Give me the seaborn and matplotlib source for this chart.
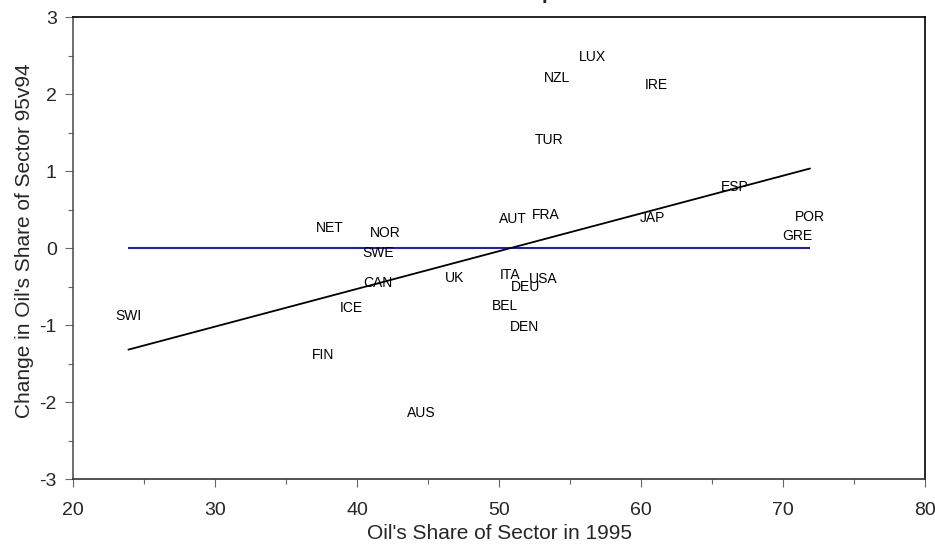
import pandas as pd
import matplotlib
matplotlib.use('Agg')
import matplotlib.pyplot as plt
import seaborn as sns
from matplotlib.ticker import MultipleLocator

# values (label sits just above its point)
countries = ['SWI', 'NET', 'NOR', 'SWE', 'CAN', 'ICE', 'FIN', 'AUS', 'UK', 'AUT',
             'FRA', 'ITA', 'USA', 'DEU', 'BEL', 'DEN', 'JAP', 'ESP', 'POR', 'GRE',
             'TUR', 'NZL', 'LUX', 'IRE']
share_1995 = [23.9, 38.1, 42.0, 41.5, 41.5, 39.6, 37.6, 44.5, 46.9, 51.0,
              53.3, 50.8, 53.1, 51.9, 50.4, 51.8, 60.8, 66.6, 71.9, 71.0,
              53.5, 54.1, 56.6, 61.1]
change_95v94 = [-0.98, 0.16, 0.09, -0.16, -0.55, -0.88, -1.49, -2.24, -0.49, 0.28,
                0.33, -0.45, -0.50, -0.61, -0.85, -1.13, 0.29, 0.69, 0.30, 0.06,
                1.30, 2.11, 2.38, 2.02]

df = pd.DataFrame({'country': countries, 'share': share_1995, 'change': change_95v94})

sns.set_style('ticks')
plt.rcParams['font.family'] = ['Liberation Sans', 'DejaVu Sans']
plt.rcParams['axes.unicode_minus'] = False

fig = plt.figure(figsize=(9.35, 5.45), dpi=100)
ax = fig.add_axes([0.0781, 0.1211, 0.9112, 0.8477])

# zero line across the data range
ax.hlines(0, df['share'].min(), df['share'].max(), color='#0000ee', lw=1.3, zorder=2)

# fitted line
sns.regplot(data=df, x='share', y='change', scatter=False, ci=None, truncate=True,
            color='black', line_kws={'lw': 1.3}, ax=ax)

for _, r in df.iterrows():
    ax.annotate(r['country'], (r['share'], r['change']), xytext=(0, 5.5),
                textcoords='offset points', ha='center', va='center',
                fontsize=10, color='black', zorder=3)

ax.set_xlim(20, 80)
ax.set_ylim(-3, 3)
ax.xaxis.set_major_locator(MultipleLocator(10))
ax.xaxis.set_minor_locator(MultipleLocator(5))
ax.yaxis.set_major_locator(MultipleLocator(1))
ax.yaxis.set_minor_locator(MultipleLocator(0.5))
ax.tick_params(which='both', direction='out', width=0.8, color='#666666', labelsize=14)
ax.tick_params(which='major', length=5.8)
ax.tick_params(which='minor', length=3.6)
ax.tick_params(axis='x', pad=11)
ax.tick_params(axis='y', pad=6)
for s in ax.spines.values():
    s.set_visible(True)
    s.set_linewidth(1.2)
    s.set_color('black')
ax.spines['left'].set_color('#555555')
ax.spines['bottom'].set_color('#333333')

ax.set_xlabel("Oil's Share of Sector in 1995", fontsize=15, labelpad=3)
ax.set_ylabel("Change in Oil's Share of Sector 95v94", fontsize=15)
ax.yaxis.set_label_coords(-0.0458, 0.515)
ax.set_title("Oil's Share Comparison", fontsize=15, fontweight='bold', y=1.039, pad=0)

fig.savefig('out.png', dpi=100)
